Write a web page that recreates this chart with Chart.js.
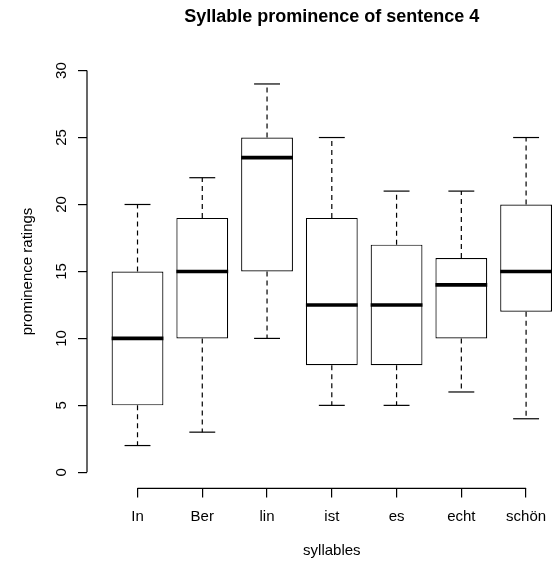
<!DOCTYPE html>
<html>
<head>
<meta charset="utf-8">
<title>Syllable prominence of sentence 4</title>
<script src="https://cdn.jsdelivr.net/npm/chart.js@4.4.1/dist/chart.umd.min.js"></script>
<style>
  html, body { margin: 0; padding: 0; background: #fff; overflow: hidden; }
  #wrap { width: 552px; height: 563px; }
</style>
</head>
<body>
<div id="wrap"><canvas id="myChart" width="552" height="563"></canvas></div>
<script>
// data
var syllables = ["In", "Ber", "lin", "ist", "es", "echt", "schön"];
var whiskerLow = [2, 3, 10, 5, 5, 6, 4];
var lowerQuartile = [5, 10, 15, 8, 8, 10, 12];
var medians = [10, 15, 23.5, 12.5, 12.5, 14, 15];
var upperQuartile = [15, 19, 25, 19, 17, 16, 20];
var whiskerHigh = [20, 22, 29, 25, 21, 21, 25];
var yTicks = [0, 5, 10, 15, 20, 25, 30];

var chartTitle = "Syllable prominence of sentence 4";
var xTitle = "syllables";
var yTitle = "prominence ratings";

var fontFamily = "'Liberation Sans', Arial, Helvetica, sans-serif";

// boxes as floating bars
var boxData = syllables.map(function (s, i) {
  return { x: i + 1, y: [lowerQuartile[i], upperQuartile[i]] };
});

function line(ctx, x1, y1, x2, y2) {
  ctx.beginPath();
  ctx.moveTo(x1, y1);
  ctx.lineTo(x2, y2);
  ctx.stroke();
}

// whiskers, staples, medians, axis lines and titles (R style)
var boxplotExtras = {
  id: "boxplotExtras",
  afterDatasetsDraw: function (chart) {
    var ctx = chart.ctx;
    var xs = chart.scales.x;
    var ys = chart.scales.y;
    var area = chart.chartArea;
    var bars = chart.getDatasetMeta(0).data;

    ctx.save();
    ctx.strokeStyle = "#000";
    for (var i = 0; i < syllables.length; i++) {
      var cx = xs.getPixelForValue(i + 1);
      var half = bars[i].width / 2;

      ctx.lineWidth = 1.2;
      ctx.setLineDash([5, 4]);
      line(ctx, cx, ys.getPixelForValue(upperQuartile[i]), cx, ys.getPixelForValue(whiskerHigh[i]));
      line(ctx, cx, ys.getPixelForValue(lowerQuartile[i]), cx, ys.getPixelForValue(whiskerLow[i]));
      ctx.setLineDash([]);

      line(ctx, cx - half / 2, ys.getPixelForValue(whiskerHigh[i]), cx + half / 2, ys.getPixelForValue(whiskerHigh[i]));
      line(ctx, cx - half / 2, ys.getPixelForValue(whiskerLow[i]), cx + half / 2, ys.getPixelForValue(whiskerLow[i]));

      ctx.lineWidth = 3.6;
      line(ctx, cx - half, ys.getPixelForValue(medians[i]), cx + half, ys.getPixelForValue(medians[i]));
    }

    // axis lines only span first to last tick
    ctx.lineWidth = 1.2;
    line(ctx, area.left, ys.getPixelForValue(yTicks[0]), area.left, ys.getPixelForValue(yTicks[yTicks.length - 1]));
    line(ctx, xs.getPixelForValue(1), area.bottom, xs.getPixelForValue(syllables.length), area.bottom);

    // titles centred on the plot region (x range 0.22 .. 7.78)
    var mid = xs.getPixelForValue((1 + syllables.length) / 2);
    ctx.fillStyle = "#000";
    ctx.textAlign = "center";
    ctx.textBaseline = "middle";
    ctx.font = "bold 18px " + fontFamily;
    ctx.fillText(chartTitle, mid, 17);
    ctx.font = "15px " + fontFamily;
    ctx.fillText(xTitle, mid, 551);
    ctx.restore();
  }
};

var ctx = document.getElementById("myChart").getContext("2d");
var boxChart = new Chart(ctx, {
  type: "bar",
  data: {
    datasets: [{
      data: boxData,
      backgroundColor: "#ffffff",
      borderColor: "#000000",
      borderWidth: 1.2,
      borderSkipped: false,
      barPercentage: 0.8,
      categoryPercentage: 1.0
    }]
  },
  options: {
    responsive: false,
    animation: false,
    layout: { padding: { top: 54.5, left: 0, right: 0, bottom: 0 } },
    plugins: {
      legend: { display: false },
      tooltip: { enabled: false },
      title: { display: false }
    },
    scales: {
      x: {
        type: "linear",
        min: 0.22,
        max: 7.4,
        offset: false,
        border: { display: false },
        grid: { offset: false, drawOnChartArea: false, drawTicks: true, tickLength: 9, color: "#000", lineWidth: 1.2 },
        afterBuildTicks: function (scale) {
          scale.ticks = syllables.map(function (s, i) { return { value: i + 1 }; });
        },
        afterFit: function (scale) {
          scale.height = 74.6;
          scale.paddingLeft = 0;
          scale.paddingRight = 0;
        },
        ticks: {
          padding: 10,
          color: "#000",
          font: { family: fontFamily, size: 15 },
          maxRotation: 0,
          autoSkip: false,
          callback: function (value) { return syllables[value - 1]; }
        }
      },
      y: {
        min: -1.2,
        max: 31.2,
        border: { display: false },
        grid: { drawOnChartArea: false, drawTicks: true, tickLength: 9, color: "#000", lineWidth: 1.2 },
        afterBuildTicks: function (scale) {
          scale.ticks = yTicks.map(function (v) { return { value: v }; });
        },
        afterFit: function (scale) {
          scale.width = 87;
          scale.paddingTop = 0;
          scale.paddingBottom = 0;
        },
        ticks: {
          padding: 8,
          color: "#000",
          font: { family: fontFamily, size: 15 },
          minRotation: 90,
          maxRotation: 90,
          crossAlign: "center"
        },
        title: {
          display: true,
          text: yTitle,
          color: "#000",
          font: { family: fontFamily, size: 15 },
          padding: { top: 19, bottom: 0 }
        }
      }
    }
  },
  plugins: [boxplotExtras]
});
</script>
</body>
</html>
